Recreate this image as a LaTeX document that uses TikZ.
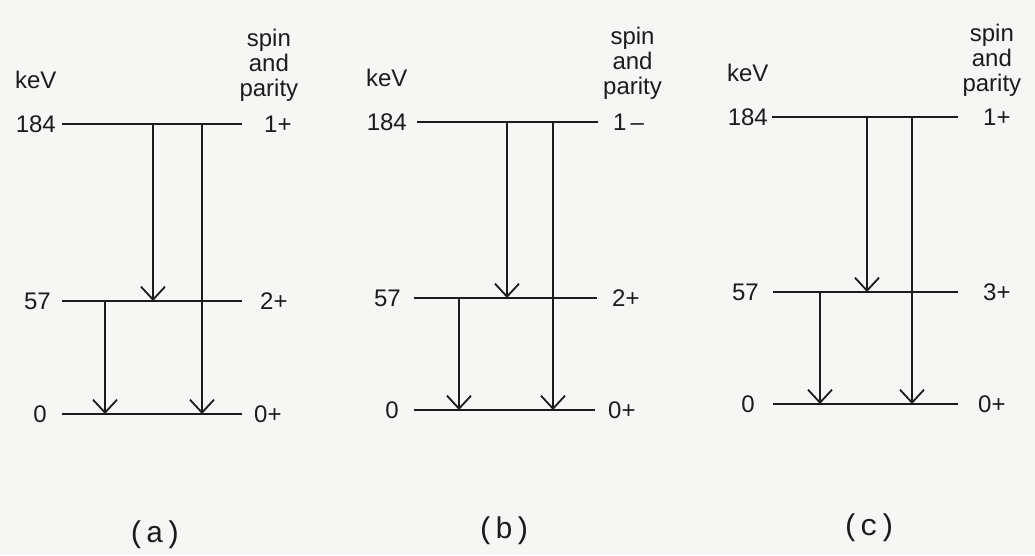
\documentclass[tikz,border=0pt]{standalone}
\usepackage{fontspec}
\setsansfont{Liberation Sans}
\setmonofont{Liberation Mono}
\usetikzlibrary{arrows.meta,positioning}
\definecolor{ink}{RGB}{28,28,28}
\definecolor{paper}{RGB}{246,246,244}

\begin{document}
\begin{tikzpicture}[x=1pt,y=-1pt,
  level/.style={draw=ink,line width=2.1pt},
  gamma/.style={
    draw=ink,
    line width=1.8pt,
    -{Straight Barb[length=13pt,width=24pt]}
  },
  hand/.style={font=\fontsize{24}{25}\selectfont\sffamily,text=ink,inner sep=0pt},
  spinlab/.style={hand,align=center},
  caption/.style={font=\fontsize{30}{34}\selectfont\ttfamily,text=ink,inner sep=0pt}
]
\fill[paper] (0,0) rectangle (1035,555);

% (a)
\coordinate (aHl) at (62,124);  \coordinate (aHr) at (242,124);
\coordinate (aMl) at (62,301);  \coordinate (aMr) at (242,301);
\coordinate (aGl) at (62,414);  \coordinate (aGr) at (242,414);
\coordinate (aX1) at (153,0);
\coordinate (aX2) at (202,0);
\coordinate (aX3) at (105,0);
\draw[level] (aHl) -- (aHr);
\draw[level] (aMl) -- (aMr);
\draw[level] (aGl) -- (aGr);
\draw[gamma] (aX1 |- aHl) -- (aX1 |- aMl);
\draw[gamma] (aX2 |- aHl) -- (aX2 |- aGl);
\draw[gamma] (aX3 |- aMl) -- (aX3 |- aGl);
\node[hand,left=6pt of aHl] (aE184) {184};
\node[hand,left=11pt of aMl] (aE57) {57};
\node[hand,left=15pt of aGl] (aE0) {0};
\node[hand,right=22pt of aHr] (aJ184) {1+};
\node[hand,right=18pt of aMr] (aJ57) {2+};
\node[hand,right=12pt of aGr] (aJ0) {0+};
\node[hand,above=26pt of aE184] (aKeV) {keV};
\node[spinlab,above=14pt of aJ184,xshift=-9pt] (aSpin) {spin\\and\\parity};
\node[caption] (aCap) at (155,535) {(a)};

% (b)
\coordinate (bHl) at (417,122); \coordinate (bHr) at (598,122);
\coordinate (bMl) at (414,298); \coordinate (bMr) at (597,298);
\coordinate (bGl) at (414,410); \coordinate (bGr) at (595,410);
\coordinate (bX1) at (507,0);
\coordinate (bX2) at (553,0);
\coordinate (bX3) at (459,0);
\draw[level] (bHl) -- (bHr);
\draw[level] (bMl) -- (bMr);
\draw[level] (bGl) -- (bGr);
\draw[gamma] (bX1 |- bHl) -- (bX1 |- bMl);
\draw[gamma] (bX2 |- bHl) -- (bX2 |- bGl);
\draw[gamma] (bX3 |- bMl) -- (bX3 |- bGl);
\node[hand,left=10pt of bHl] (bE184) {184};
\node[hand,left=13pt of bMl] (bE57) {57};
\node[hand,left=15pt of bGl] (bE0) {0};
\node[hand,right=15pt of bHr] (bJ184) {1\,--};
\node[hand,right=15pt of bMr] (bJ57) {2+};
\node[hand,right=13pt of bGr] (bJ0) {0+};
\node[hand,above=26pt of bE184] (bKeV) {keV};
\node[spinlab,above=14pt of bJ184,xshift=4pt] (bSpin) {spin\\and\\parity};
\node[caption] (bCap) at (504,531) {(b)};

% (c)
\coordinate (cHl) at (772,117); \coordinate (cHr) at (958,117);
\coordinate (cMl) at (773,292); \coordinate (cMr) at (958,292);
\coordinate (cGl) at (773,404); \coordinate (cGr) at (958,404);
\coordinate (cX1) at (867,0);
\coordinate (cX2) at (912,0);
\coordinate (cX3) at (820,0);
\draw[level] (cHl) -- (cHr);
\draw[level] (cMl) -- (cMr);
\draw[level] (cGl) -- (cGr);
\draw[gamma] (cX1 |- cHl) -- (cX1 |- cMl);
\draw[gamma] (cX2 |- cHl) -- (cX2 |- cGl);
\draw[gamma] (cX3 |- cMl) -- (cX3 |- cGl);
\node[hand,left=4pt of cHl] (cE184) {184};
\node[hand,left=14pt of cMl] (cE57) {57};
\node[hand,left=18pt of cGl] (cE0) {0};
\node[hand,right=25pt of cHr] (cJ184) {1+};
\node[hand,right=25pt of cMr] (cJ57) {3+};
\node[hand,right=20pt of cGr] (cJ0) {0+};
\node[hand,above=26pt of cE184] (cKeV) {keV};
\node[spinlab,above=12pt of cJ184,xshift=-5pt] (cSpin) {spin\\and\\parity};
\node[caption] (cCap) at (869,528) {(c)};
\end{tikzpicture}
\end{document}
